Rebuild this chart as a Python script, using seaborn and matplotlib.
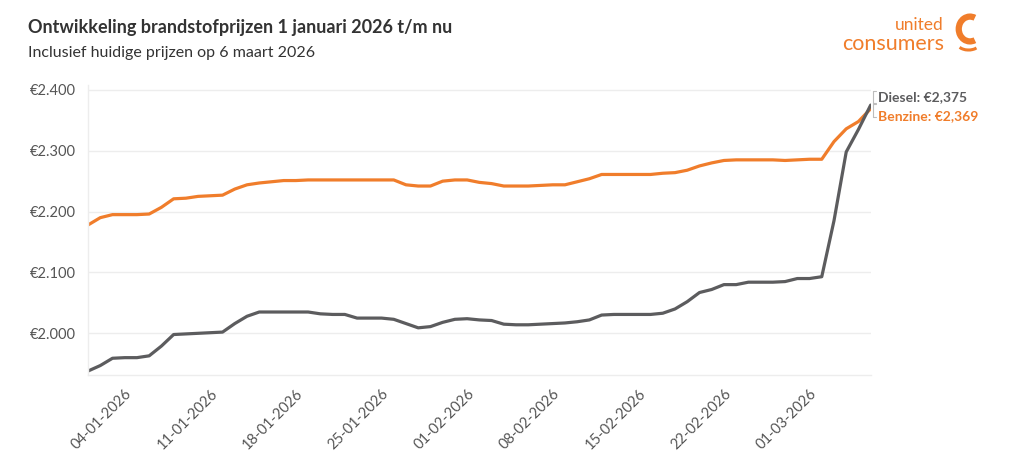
import numpy as np
import pandas as pd
import matplotlib
matplotlib.use("Agg")
import matplotlib.pyplot as plt
import matplotlib.dates as mdates
from matplotlib.patches import Arc
import seaborn as sns

# ---------------- data ----------------
start_date = "2026-01-01"
end_date = "2026-03-06"

benzine = [2.178, 2.190, 2.195, 2.195, 2.195, 2.196, 2.207, 2.221, 2.222, 2.225,
           2.226, 2.227, 2.237, 2.244, 2.247, 2.249, 2.251, 2.251, 2.252, 2.252,
           2.252, 2.252, 2.252, 2.252, 2.252, 2.252, 2.244, 2.242, 2.242, 2.250,
           2.252, 2.252, 2.248, 2.246, 2.242, 2.242, 2.242, 2.243, 2.244, 2.244,
           2.249, 2.254, 2.261, 2.261, 2.261, 2.261, 2.261, 2.263, 2.264, 2.268,
           2.275, 2.280, 2.284, 2.285, 2.285, 2.285, 2.285, 2.284, 2.285, 2.286,
           2.286, 2.315, 2.336, 2.348, 2.369]

diesel = [1.938, 1.947, 1.959, 1.960, 1.960, 1.963, 1.979, 1.998, 1.999, 2.000,
          2.001, 2.002, 2.016, 2.028, 2.035, 2.035, 2.035, 2.035, 2.035, 2.032,
          2.031, 2.031, 2.025, 2.025, 2.025, 2.023, 2.016, 2.009, 2.011, 2.018,
          2.023, 2.024, 2.022, 2.021, 2.015, 2.014, 2.014, 2.015, 2.016, 2.017,
          2.019, 2.022, 2.030, 2.031, 2.031, 2.031, 2.031, 2.033, 2.040, 2.052,
          2.067, 2.072, 2.080, 2.080, 2.084, 2.084, 2.084, 2.085, 2.090, 2.090,
          2.093, 2.185, 2.298, 2.335, 2.375]

series_names = ["Benzine", "Diesel"]
y_ticks = [2.0, 2.1, 2.2, 2.3, 2.4]
y_tick_labels = ["€2.000", "€2.100", "€2.200", "€2.300", "€2.400"]
x_tick_start = "2026-01-04"

title = "Ontwikkeling brandstofprijzen 1 januari 2026 t/m nu"
subtitle = "Inclusief huidige prijzen op 6 maart 2026"
end_labels = ["Diesel: €2,375", "Benzine: €2,369"]

ORANGE = "#F07D2B"
GREY = "#5C5C5E"
TEXT = "#333333"

dates = pd.date_range(start_date, end_date, freq="D")
df = pd.DataFrame({"Datum": np.concatenate([dates, dates]),
                   "Prijs": benzine + diesel,
                   "Brandstof": [series_names[0]] * len(dates) + [series_names[1]] * len(dates)})

# ---------------- figure ----------------
sns.set_theme(style="white")
plt.rcParams["font.family"] = ["Lato", "DejaVu Sans"]

fig = plt.figure(figsize=(10.13, 4.65), dpi=100)
ax = fig.add_axes([0.0869, 0.1929, 0.7726, 0.6243])

sns.lineplot(data=df, x="Datum", y="Prijs", hue="Brandstof",
             palette={"Benzine": ORANGE, "Diesel": GREY},
             linewidth=2.3, ax=ax, legend=False)
for ln in ax.get_lines():
    ln.set_solid_joinstyle("round")
    ln.set_solid_capstyle("round")

ax.set_xlim(dates[0], dates[-1])
ax.set_ylim(1.931, 2.408)
ax.set_yticks(y_ticks)
ax.set_yticklabels(y_tick_labels)
ax.set_xticks(pd.date_range(x_tick_start, end_date, freq="7D"))
ax.xaxis.set_major_formatter(mdates.DateFormatter("%d-%m-%Y"))
plt.setp(ax.get_xticklabels(), rotation=45, ha="right", rotation_mode="anchor")
ax.set_xlabel("")
ax.set_ylabel("")

ax.grid(axis="y", color="#EDEDED", linewidth=1)
ax.set_axisbelow(True)
for s in ["top", "right"]:
    ax.spines[s].set_visible(False)
for s in ["left", "bottom"]:
    ax.spines[s].set_color("#EDEDED")
    ax.spines[s].set_linewidth(1)
ax.tick_params(axis="both", which="major", length=6, width=1, color="#E3E3E3",
               labelsize=10.5, labelcolor="#555555", pad=3)
ax.tick_params(axis="x", labelsize=10.5, pad=2)

# end labels
fig.text(878 / 1013, 1 - 97 / 465, end_labels[0], color=GREY, fontsize=10,
         fontweight="bold", va="center", ha="left")
fig.text(878 / 1013, 1 - 116 / 465, end_labels[1], color=ORANGE, fontsize=10,
         fontweight="bold", va="center", ha="left")
# bracket connectors
for y0, y1 in [(91, 103), (104, 117)]:
    fig.add_artist(plt.Line2D([873 / 1013, 873 / 1013], [1 - y0 / 465, 1 - y1 / 465],
                              color="#BDBDBD", linewidth=0.8))
    fig.add_artist(plt.Line2D([873 / 1013, 876 / 1013], [1 - y0 / 465, 1 - y0 / 465],
                              color="#BDBDBD", linewidth=0.8))
    fig.add_artist(plt.Line2D([873 / 1013, 876 / 1013], [1 - y1 / 465, 1 - y1 / 465],
                              color="#BDBDBD", linewidth=0.8))

# titles
fig.text(28 / 1013, 1 - 28 / 465, title, fontsize=13, fontweight="bold",
         color=TEXT, va="center", ha="left")
fig.text(28 / 1013, 1 - 53 / 465, subtitle, fontsize=11.5, color=TEXT,
         va="center", ha="left")

# logo
fig.text(944 / 1013, 1 - 30 / 465, "united", fontsize=12.5, color=ORANGE,
         ha="right", va="baseline")
fig.text(944 / 1013, 1 - 49.5 / 465, "consumers", fontsize=15.5, color=ORANGE,
         ha="right", va="baseline")
logo_ax = fig.add_axes([952 / 1013, 1 - 53 / 465, 30 / 1013, 40 / 465])
logo_ax.set_xlim(0, 1)
logo_ax.set_ylim(0, 1)
logo_ax.axis("off")
logo_ax.add_patch(Arc((0.6, 0.6), 0.75, 0.62, theta1=60, theta2=300,
                      color=ORANGE, linewidth=4.5))
logo_ax.add_patch(Arc((0.55, 0.25), 0.75, 0.35, theta1=200, theta2=335,
                      color=ORANGE, linewidth=2.2))

fig.savefig("out.png", dpi=100, facecolor="white")
